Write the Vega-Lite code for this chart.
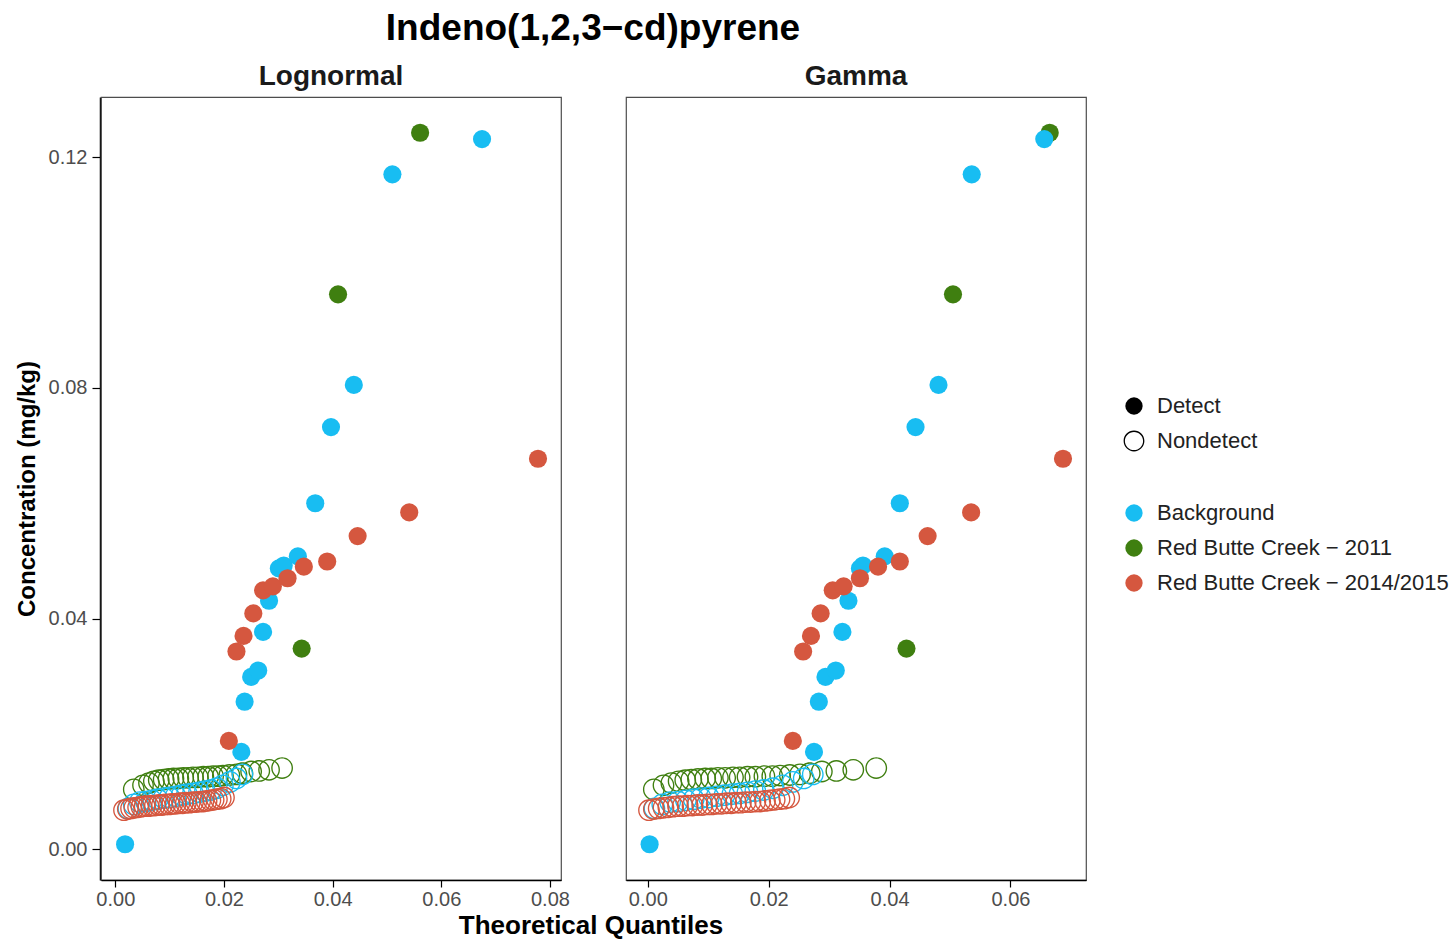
{
  "$schema": "https://vega.github.io/schema/vega-lite/v6.json",
  "background": "white",
  "padding": {"left": 15, "top": 10, "right": 5, "bottom": 0},
  "title": {"text": "Indeno(1,2,3−cd)pyrene", "fontSize": 37, "font": "Liberation Sans", "fontWeight": "bold", "anchor": "middle", "frame": "group", "dx": 492, "color": "black", "offset": 15},
  "data": {"values": [
    {"g": "Red Butte Creek − 2011", "d": "Nondetect", "c": 0.0104, "Lognormal": 0.0034, "Gamma": 0.0010},
    {"g": "Red Butte Creek − 2011", "d": "Nondetect", "c": 0.0111, "Lognormal": 0.0051, "Gamma": 0.0026},
    {"g": "Red Butte Creek − 2011", "d": "Nondetect", "c": 0.0115, "Lognormal": 0.0062, "Gamma": 0.0039},
    {"g": "Red Butte Creek − 2011", "d": "Nondetect", "c": 0.0118, "Lognormal": 0.0071, "Gamma": 0.0051},
    {"g": "Red Butte Creek − 2011", "d": "Nondetect", "c": 0.0120, "Lognormal": 0.0080, "Gamma": 0.0062},
    {"g": "Red Butte Creek − 2011", "d": "Nondetect", "c": 0.0121, "Lognormal": 0.0089, "Gamma": 0.0072},
    {"g": "Red Butte Creek − 2011", "d": "Nondetect", "c": 0.0122, "Lognormal": 0.0098, "Gamma": 0.0083},
    {"g": "Red Butte Creek − 2011", "d": "Nondetect", "c": 0.0123, "Lognormal": 0.0107, "Gamma": 0.0095},
    {"g": "Red Butte Creek − 2011", "d": "Nondetect", "c": 0.0123, "Lognormal": 0.0116, "Gamma": 0.0105},
    {"g": "Red Butte Creek − 2011", "d": "Nondetect", "c": 0.0124, "Lognormal": 0.0125, "Gamma": 0.0116},
    {"g": "Red Butte Creek − 2011", "d": "Nondetect", "c": 0.0124, "Lognormal": 0.0134, "Gamma": 0.0128},
    {"g": "Red Butte Creek − 2011", "d": "Nondetect", "c": 0.0125, "Lognormal": 0.0143, "Gamma": 0.0141},
    {"g": "Red Butte Creek − 2011", "d": "Nondetect", "c": 0.0125, "Lognormal": 0.0152, "Gamma": 0.0152},
    {"g": "Red Butte Creek − 2011", "d": "Nondetect", "c": 0.0126, "Lognormal": 0.0162, "Gamma": 0.0165},
    {"g": "Red Butte Creek − 2011", "d": "Nondetect", "c": 0.0126, "Lognormal": 0.0171, "Gamma": 0.0178},
    {"g": "Red Butte Creek − 2011", "d": "Nondetect", "c": 0.0127, "Lognormal": 0.0180, "Gamma": 0.0193},
    {"g": "Red Butte Creek − 2011", "d": "Nondetect", "c": 0.0127, "Lognormal": 0.0189, "Gamma": 0.0206},
    {"g": "Red Butte Creek − 2011", "d": "Nondetect", "c": 0.0128, "Lognormal": 0.0198, "Gamma": 0.0219},
    {"g": "Red Butte Creek − 2011", "d": "Nondetect", "c": 0.0129, "Lognormal": 0.0210, "Gamma": 0.0235},
    {"g": "Red Butte Creek − 2011", "d": "Nondetect", "c": 0.0130, "Lognormal": 0.0223, "Gamma": 0.0252},
    {"g": "Red Butte Creek − 2011", "d": "Nondetect", "c": 0.0132, "Lognormal": 0.0234, "Gamma": 0.0268},
    {"g": "Red Butte Creek − 2011", "d": "Nondetect", "c": 0.0135, "Lognormal": 0.0250, "Gamma": 0.0288},
    {"g": "Red Butte Creek − 2011", "d": "Nondetect", "c": 0.0136, "Lognormal": 0.0265, "Gamma": 0.0312},
    {"g": "Red Butte Creek − 2011", "d": "Nondetect", "c": 0.0138, "Lognormal": 0.0283, "Gamma": 0.0340},
    {"g": "Red Butte Creek − 2011", "d": "Nondetect", "c": 0.0141, "Lognormal": 0.0307, "Gamma": 0.0378},
    {"g": "Red Butte Creek − 2011", "d": "Detect", "c": 0.0348, "Lognormal": 0.0343, "Gamma": 0.0428},
    {"g": "Red Butte Creek − 2011", "d": "Detect", "c": 0.0962, "Lognormal": 0.0410, "Gamma": 0.0505},
    {"g": "Red Butte Creek − 2011", "d": "Detect", "c": 0.1242, "Lognormal": 0.0561, "Gamma": 0.0665},
    {"g": "Background", "d": "Detect", "c": 0.0009, "Lognormal": 0.0018, "Gamma": 0.0003},
    {"g": "Background", "d": "Nondetect", "c": 0.0071, "Lognormal": 0.0024, "Gamma": 0.0011},
    {"g": "Background", "d": "Nondetect", "c": 0.0078, "Lognormal": 0.0034, "Gamma": 0.0024},
    {"g": "Background", "d": "Nondetect", "c": 0.0082, "Lognormal": 0.0045, "Gamma": 0.0037},
    {"g": "Background", "d": "Nondetect", "c": 0.0083, "Lognormal": 0.0056, "Gamma": 0.0050},
    {"g": "Background", "d": "Nondetect", "c": 0.0085, "Lognormal": 0.0067, "Gamma": 0.0063},
    {"g": "Background", "d": "Nondetect", "c": 0.0087, "Lognormal": 0.0078, "Gamma": 0.0076},
    {"g": "Background", "d": "Nondetect", "c": 0.0089, "Lognormal": 0.0089, "Gamma": 0.0088},
    {"g": "Background", "d": "Nondetect", "c": 0.0090, "Lognormal": 0.0100, "Gamma": 0.0101},
    {"g": "Background", "d": "Nondetect", "c": 0.0092, "Lognormal": 0.0111, "Gamma": 0.0114},
    {"g": "Background", "d": "Nondetect", "c": 0.0094, "Lognormal": 0.0122, "Gamma": 0.0127},
    {"g": "Background", "d": "Nondetect", "c": 0.0096, "Lognormal": 0.0132, "Gamma": 0.0140},
    {"g": "Background", "d": "Nondetect", "c": 0.0097, "Lognormal": 0.0143, "Gamma": 0.0152},
    {"g": "Background", "d": "Nondetect", "c": 0.0099, "Lognormal": 0.0154, "Gamma": 0.0165},
    {"g": "Background", "d": "Nondetect", "c": 0.0101, "Lognormal": 0.0165, "Gamma": 0.0178},
    {"g": "Background", "d": "Nondetect", "c": 0.0103, "Lognormal": 0.0176, "Gamma": 0.0192},
    {"g": "Background", "d": "Nondetect", "c": 0.0106, "Lognormal": 0.0187, "Gamma": 0.0207},
    {"g": "Background", "d": "Nondetect", "c": 0.0111, "Lognormal": 0.0198, "Gamma": 0.0223},
    {"g": "Background", "d": "Nondetect", "c": 0.0117, "Lognormal": 0.0211, "Gamma": 0.0240},
    {"g": "Background", "d": "Nondetect", "c": 0.0123, "Lognormal": 0.0223, "Gamma": 0.0258},
    {"g": "Background", "d": "Nondetect", "c": 0.0130, "Lognormal": 0.0234, "Gamma": 0.0273},
    {"g": "Background", "d": "Detect", "c": 0.0169, "Lognormal": 0.0232, "Gamma": 0.0275},
    {"g": "Background", "d": "Detect", "c": 0.0256, "Lognormal": 0.0238, "Gamma": 0.0283},
    {"g": "Background", "d": "Detect", "c": 0.0299, "Lognormal": 0.0250, "Gamma": 0.0294},
    {"g": "Background", "d": "Detect", "c": 0.0310, "Lognormal": 0.0263, "Gamma": 0.0311},
    {"g": "Background", "d": "Detect", "c": 0.0377, "Lognormal": 0.0272, "Gamma": 0.0322},
    {"g": "Background", "d": "Detect", "c": 0.0431, "Lognormal": 0.0283, "Gamma": 0.0332},
    {"g": "Background", "d": "Detect", "c": 0.0487, "Lognormal": 0.0301, "Gamma": 0.0351},
    {"g": "Background", "d": "Detect", "c": 0.0492, "Lognormal": 0.0310, "Gamma": 0.0356},
    {"g": "Background", "d": "Detect", "c": 0.0508, "Lognormal": 0.0336, "Gamma": 0.0392},
    {"g": "Background", "d": "Detect", "c": 0.0600, "Lognormal": 0.0368, "Gamma": 0.0417},
    {"g": "Background", "d": "Detect", "c": 0.0732, "Lognormal": 0.0397, "Gamma": 0.0443},
    {"g": "Background", "d": "Detect", "c": 0.0805, "Lognormal": 0.0439, "Gamma": 0.0481},
    {"g": "Background", "d": "Detect", "c": 0.1170, "Lognormal": 0.0510, "Gamma": 0.0536},
    {"g": "Background", "d": "Detect", "c": 0.1231, "Lognormal": 0.0675, "Gamma": 0.0656},
    {"g": "Red Butte Creek − 2014/2015", "d": "Nondetect", "c": 0.0068, "Lognormal": 0.0016, "Gamma": 0.0002},
    {"g": "Red Butte Creek − 2014/2015", "d": "Nondetect", "c": 0.0070, "Lognormal": 0.0023, "Gamma": 0.0010},
    {"g": "Red Butte Creek − 2014/2015", "d": "Nondetect", "c": 0.0071, "Lognormal": 0.0029, "Gamma": 0.0018},
    {"g": "Red Butte Creek − 2014/2015", "d": "Nondetect", "c": 0.0072, "Lognormal": 0.0035, "Gamma": 0.0026},
    {"g": "Red Butte Creek − 2014/2015", "d": "Nondetect", "c": 0.0073, "Lognormal": 0.0042, "Gamma": 0.0034},
    {"g": "Red Butte Creek − 2014/2015", "d": "Nondetect", "c": 0.0074, "Lognormal": 0.0048, "Gamma": 0.0042},
    {"g": "Red Butte Creek − 2014/2015", "d": "Nondetect", "c": 0.0075, "Lognormal": 0.0054, "Gamma": 0.0050},
    {"g": "Red Butte Creek − 2014/2015", "d": "Nondetect", "c": 0.0075, "Lognormal": 0.0061, "Gamma": 0.0058},
    {"g": "Red Butte Creek − 2014/2015", "d": "Nondetect", "c": 0.0076, "Lognormal": 0.0067, "Gamma": 0.0066},
    {"g": "Red Butte Creek − 2014/2015", "d": "Nondetect", "c": 0.0076, "Lognormal": 0.0073, "Gamma": 0.0074},
    {"g": "Red Butte Creek − 2014/2015", "d": "Nondetect", "c": 0.0077, "Lognormal": 0.0080, "Gamma": 0.0082},
    {"g": "Red Butte Creek − 2014/2015", "d": "Nondetect", "c": 0.0077, "Lognormal": 0.0086, "Gamma": 0.0090},
    {"g": "Red Butte Creek − 2014/2015", "d": "Nondetect", "c": 0.0078, "Lognormal": 0.0092, "Gamma": 0.0098},
    {"g": "Red Butte Creek − 2014/2015", "d": "Nondetect", "c": 0.0078, "Lognormal": 0.0099, "Gamma": 0.0106},
    {"g": "Red Butte Creek − 2014/2015", "d": "Nondetect", "c": 0.0079, "Lognormal": 0.0105, "Gamma": 0.0114},
    {"g": "Red Butte Creek − 2014/2015", "d": "Nondetect", "c": 0.0079, "Lognormal": 0.0111, "Gamma": 0.0122},
    {"g": "Red Butte Creek − 2014/2015", "d": "Nondetect", "c": 0.0080, "Lognormal": 0.0118, "Gamma": 0.0130},
    {"g": "Red Butte Creek − 2014/2015", "d": "Nondetect", "c": 0.0080, "Lognormal": 0.0124, "Gamma": 0.0138},
    {"g": "Red Butte Creek − 2014/2015", "d": "Nondetect", "c": 0.0081, "Lognormal": 0.0130, "Gamma": 0.0146},
    {"g": "Red Butte Creek − 2014/2015", "d": "Nondetect", "c": 0.0081, "Lognormal": 0.0137, "Gamma": 0.0154},
    {"g": "Red Butte Creek − 2014/2015", "d": "Nondetect", "c": 0.0082, "Lognormal": 0.0143, "Gamma": 0.0162},
    {"g": "Red Butte Creek − 2014/2015", "d": "Nondetect", "c": 0.0082, "Lognormal": 0.0149, "Gamma": 0.0170},
    {"g": "Red Butte Creek − 2014/2015", "d": "Nondetect", "c": 0.0083, "Lognormal": 0.0156, "Gamma": 0.0178},
    {"g": "Red Butte Creek − 2014/2015", "d": "Nondetect", "c": 0.0083, "Lognormal": 0.0162, "Gamma": 0.0186},
    {"g": "Red Butte Creek − 2014/2015", "d": "Nondetect", "c": 0.0084, "Lognormal": 0.0168, "Gamma": 0.0194},
    {"g": "Red Butte Creek − 2014/2015", "d": "Nondetect", "c": 0.0085, "Lognormal": 0.0175, "Gamma": 0.0202},
    {"g": "Red Butte Creek − 2014/2015", "d": "Nondetect", "c": 0.0086, "Lognormal": 0.0181, "Gamma": 0.0210},
    {"g": "Red Butte Creek − 2014/2015", "d": "Nondetect", "c": 0.0087, "Lognormal": 0.0187, "Gamma": 0.0218},
    {"g": "Red Butte Creek − 2014/2015", "d": "Nondetect", "c": 0.0088, "Lognormal": 0.0194, "Gamma": 0.0226},
    {"g": "Red Butte Creek − 2014/2015", "d": "Nondetect", "c": 0.0090, "Lognormal": 0.0200, "Gamma": 0.0234},
    {"g": "Red Butte Creek − 2014/2015", "d": "Detect", "c": 0.0188, "Lognormal": 0.0209, "Gamma": 0.0240},
    {"g": "Red Butte Creek − 2014/2015", "d": "Detect", "c": 0.0343, "Lognormal": 0.0223, "Gamma": 0.0257},
    {"g": "Red Butte Creek − 2014/2015", "d": "Detect", "c": 0.0370, "Lognormal": 0.0236, "Gamma": 0.0270},
    {"g": "Red Butte Creek − 2014/2015", "d": "Detect", "c": 0.0409, "Lognormal": 0.0254, "Gamma": 0.0286},
    {"g": "Red Butte Creek − 2014/2015", "d": "Detect", "c": 0.0449, "Lognormal": 0.0272, "Gamma": 0.0306},
    {"g": "Red Butte Creek − 2014/2015", "d": "Detect", "c": 0.0456, "Lognormal": 0.0290, "Gamma": 0.0324},
    {"g": "Red Butte Creek − 2014/2015", "d": "Detect", "c": 0.0470, "Lognormal": 0.0317, "Gamma": 0.0351},
    {"g": "Red Butte Creek − 2014/2015", "d": "Detect", "c": 0.0490, "Lognormal": 0.0347, "Gamma": 0.0381},
    {"g": "Red Butte Creek − 2014/2015", "d": "Detect", "c": 0.0499, "Lognormal": 0.0390, "Gamma": 0.0417},
    {"g": "Red Butte Creek − 2014/2015", "d": "Detect", "c": 0.0543, "Lognormal": 0.0446, "Gamma": 0.0463},
    {"g": "Red Butte Creek − 2014/2015", "d": "Detect", "c": 0.0584, "Lognormal": 0.0541, "Gamma": 0.0535},
    {"g": "Red Butte Creek − 2014/2015", "d": "Detect", "c": 0.0677, "Lognormal": 0.0778, "Gamma": 0.0687}
  ]},
  "transform": [{"fold": ["Lognormal", "Gamma"], "as": ["dist", "q"]}],
  "facet": {
    "column": {
      "field": "dist", "type": "nominal", "sort": ["Lognormal", "Gamma"],
      "title": "Theoretical Quantiles",
      "header": {
        "titleOrient": "bottom", "labelOrient": "top",
        "labelFontSize": 28, "labelFontWeight": "bold", "labelFont": "Liberation Sans", "labelColor": "#1a1a1a", "labelPadding": 5,
        "titleFontSize": 26, "titleFontWeight": "bold", "titleFont": "Liberation Sans", "titleColor": "black", "titlePadding": -7
      }
    }
  },
  "spacing": 54,
  "resolve": {"scale": {"x": "independent"}},
  "spec": {
    "width": 460,
    "height": 783,
    "mark": {"type": "point", "filled": true, "size": 330, "strokeWidth": 0, "opacity": 1},
    "encoding": {
      "x": {"field": "q", "type": "quantitative", "scale": {"zero": false, "nice": false, "padding": 23},
            "axis": {"title": null, "values": [0, 0.02, 0.04, 0.06, 0.08], "format": ".2f", "labelPadding": 2}},
      "y": {"field": "c", "type": "quantitative", "scale": {"domain": [-0.0053, 0.1304], "nice": false, "zero": false},
            "axis": {"title": "Concentration (mg/kg)", "values": [0, 0.04, 0.08, 0.12], "format": ".2f", "offset": -5, "tickSize": 8, "labelPadding": 5}},
      "color": {"field": "g", "type": "nominal",
                "scale": {"domain": ["Background", "Red Butte Creek − 2011", "Red Butte Creek − 2014/2015"], "range": ["#18BDF2", "#3F7F10", "#D5573F"]},
                "legend": {"title": null, "orient": "none", "legendX": 1022, "legendY": 405, "symbolType": "circle"}},
      "shape": {"field": "d", "type": "nominal",
                "scale": {"domain": ["Detect", "Nondetect"],
                          "range": ["circle", "M -1.2 0 A 1.2 1.2 0 1 0 1.2 0 A 1.2 1.2 0 1 0 -1.2 0 Z M -1.05 0 A 1.05 1.05 0 1 1 1.05 0 A 1.05 1.05 0 1 1 -1.05 0 Z"]},
                "legend": {"title": null, "orient": "none", "legendX": 1022, "legendY": 298, "symbolFillColor": "black"}}
    }
  },
  "config": {
    "font": "Liberation Sans",
    "view": {"stroke": "#4d4d4d", "strokeWidth": 1.2},
    "axis": {"grid": false, "domainColor": "black", "domainWidth": 1.5, "tickColor": "black", "tickWidth": 1.2, "tickSize": 7,
             "labelFontSize": 20, "labelColor": "#4d4d4d", "labelPadding": 4,
             "titleFontSize": 24, "titleFontWeight": "bold", "titleColor": "black", "titlePadding": 9},
    "legend": {"labelFontSize": 22, "labelColor": "#222222", "labelLimit": 500, "symbolSize": 300, "symbolStrokeWidth": 0, "rowPadding": 13, "labelOffset": 12}
  }
}
